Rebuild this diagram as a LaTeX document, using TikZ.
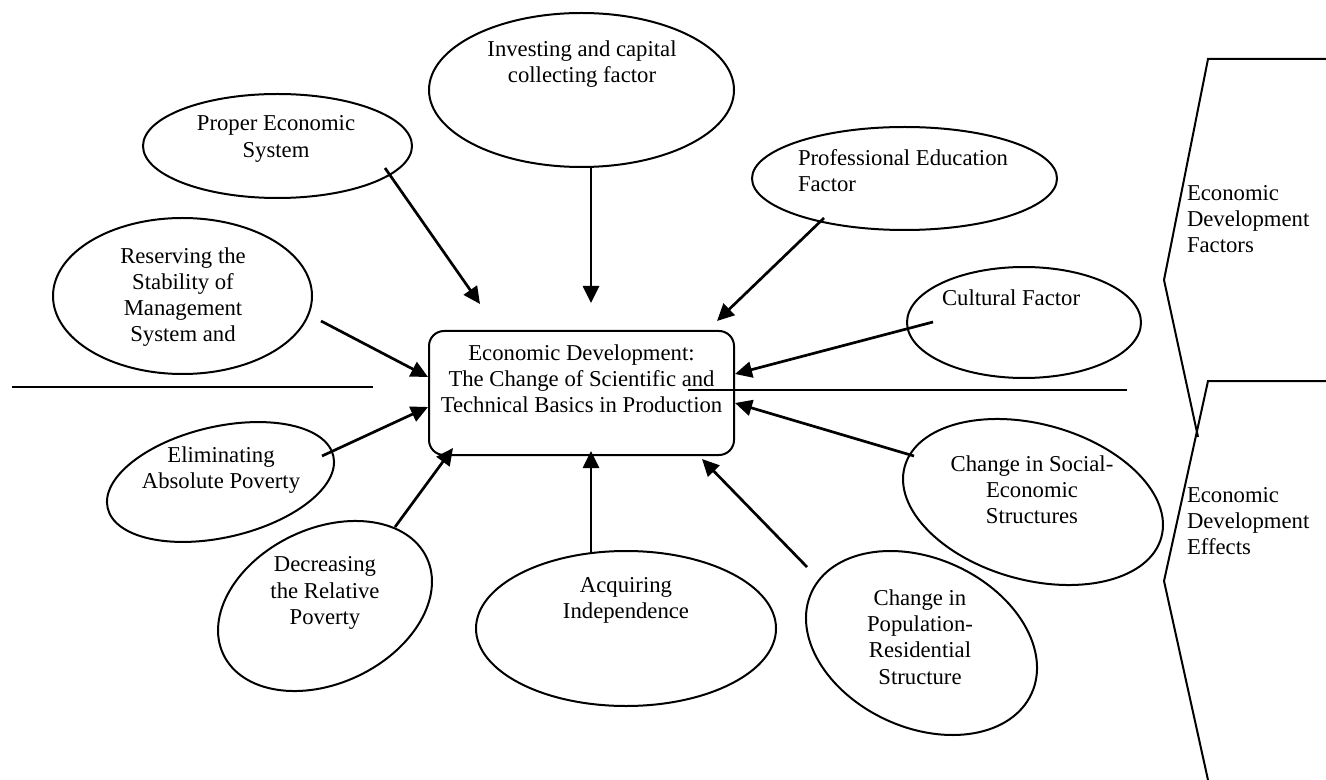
\documentclass[tikz,border=0pt]{standalone}
\usepackage{fontspec}
\setmainfont{Liberation Serif}
\usetikzlibrary{shapes.geometric,arrows.meta}
\begin{document}
\begin{tikzpicture}[x=0.5pt,y=-0.5pt,
  ell/.style={draw,ellipse,line width=1pt,inner sep=0pt,outer sep=0pt},
  lbl/.style={inner sep=0pt,outer sep=0pt,align=center,font=\fontsize{11.35}{13.1}\selectfont},
  lbll/.style={lbl,align=left},
  conn/.style={line width=1.35pt,-{Triangle[length=8.5pt,width=8pt]}},
  rule/.style={line width=1pt},
]
\useasboundingbox (0,0) rectangle (1326,780);

% central box
\node[draw,rounded corners=7.5pt,line width=1pt,minimum width=152.5pt,minimum height=62pt,inner sep=0pt] (box) at (581.5,393) {};
\node[lbl] (boxT) at (581.5,379) {Economic Development:\\The Change of Scientific and\\Technical Basics in Production};

% ellipses
\node[ell,minimum width=152.5pt,minimum height=77pt] (inv) at (581.5,90) {};
\node[lbl] (invT) at (582,64) {Investing and capital\\collecting factor};

\node[ell,minimum width=134.5pt,minimum height=52pt] (prop) at (277.5,146) {};
\node[lbl] (propT) at (276,139) {Proper Economic\\System};

\node[ell,minimum width=152.5pt,minimum height=51.5pt] (prof) at (904.5,178.5) {};
\node[lbll,anchor=west] (profT) at (798,170.5) {Professional Education\\Factor};

\node[ell,minimum width=117pt,minimum height=55.5pt] (cult) at (1024,322.5) {};
\node[lbll,anchor=west] (cultT) at (942,298) {Cultural Factor};

\node[ell,minimum width=129.5pt,minimum height=78pt] (res) at (182.5,296) {};
\node[lbl] (resT) at (183,297) {Reserving the\\Stability of\\Management\\System and};

\node[ell,minimum width=115.8pt,minimum height=55.4pt,rotate=13] (elim) at (220.5,482) {};
\node[lbl] (elimT) at (221,470) {Eliminating\\Absolute Poverty};

\node[ell,minimum width=112.6pt,minimum height=77.4pt,rotate=25.5] (decr) at (325,606) {};
\node[lbl] (decrT) at (325,593) {Decreasing\\the Relative\\Poverty};

\node[ell,minimum width=150pt,minimum height=77.5pt] (acq) at (626,628.5) {};
\node[lbl] (acqT) at (626,600.5) {Acquiring\\Independence};

\node[ell,minimum width=121.1pt,minimum height=84.5pt,rotate=-24.8] (pop) at (921.5,643) {};
\node[lbl] (popT) at (920,637) {Change in\\Population-\\Residential\\Structure};

\node[ell,minimum width=133.1pt,minimum height=77.9pt,rotate=-15.4] (soc) at (1033,502) {};
\node[lbl] (socT) at (1032,489.5) {Change in Social-\\Economic\\Structures};

% arrows
\coordinate (propS) at (385,168);  \coordinate (propE) at (480,304);
\coordinate (invS)  at (591,167);  \coordinate (invE)  at (591,303);
\coordinate (profS) at (824,218);  \coordinate (profE) at (717,321);
\coordinate (cultS) at (933,322);  \coordinate (cultE) at (735,374);
\coordinate (resS)  at (321,321);  \coordinate (resE)  at (428,377);
\coordinate (elimS) at (322,456);  \coordinate (elimE) at (428,407);
\coordinate (decrS) at (395,527);  \coordinate (decrE) at (453,448);
\coordinate (acqS)  at (591,552);  \coordinate (acqE)  at (591,451);
\coordinate (popS)  at (807,567);  \coordinate (popE)  at (702,459);
\coordinate (socS)  at (914,456);  \coordinate (socE)  at (735,403);
\draw[conn] (propS) -- (propE);
\draw[conn] (invS) -- (invE);
\draw[conn] (profS) -- (profE);
\draw[conn] (cultS) -- (cultE);
\draw[conn] (resS) -- (resE);
\draw[conn] (elimS) -- (elimE);
\draw[conn] (decrS) -- (decrE);
\draw[conn] (acqS) -- (acqE);
\draw[conn] (popS) -- (popE);
\draw[conn] (socS) -- (socE);

% separator lines
\coordinate (sepL1) at (12,387);  \coordinate (sepL2) at (373,387);
\coordinate (sepR1) at (688,389.5); \coordinate (sepR2) at (1127,389.5);
\draw[rule] (sepL1) -- (sepL2);
\draw[rule] (sepR1) -- (sepR2);

% right brackets
\coordinate (bf1) at (1326,59);  \coordinate (bf2) at (1208,59);
\coordinate (bf3) at (1164,280); \coordinate (bf4) at (1198,437);
\draw[rule] (bf1) -- (bf2) -- (bf3) -- (bf4);
\coordinate (be1) at (1326,381); \coordinate (be2) at (1208,381);
\coordinate (be3) at (1164,581); \coordinate (be4) at (1208,780);
\draw[rule] (be1) -- (be2) -- (be3) -- (be4);
\node[lbll,anchor=west] (factT) at (1187,219) {Economic\\Development\\Factors};
\node[lbll,anchor=west] (effT) at (1187,521) {Economic\\Development\\Effects};
\end{tikzpicture}
\end{document}
